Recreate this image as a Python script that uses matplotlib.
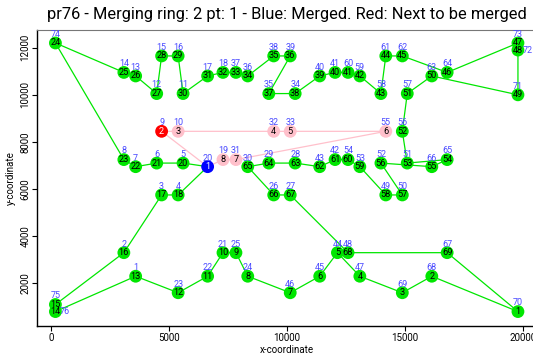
import matplotlib
matplotlib.use("Agg")
import matplotlib.pyplot as plt

# pr76 city coordinates (city id = index + 1)
city_x = [3600, 3100, 4700, 5400, 5608, 4493, 3600, 3100, 4700, 5400,
          5610, 4492, 3600, 3100, 4700, 5400, 6650, 7300, 7300, 6650,
          7300, 6650, 5400, 8350, 7850, 9450, 10150, 10358, 9243, 8350,
          7850, 9450, 10150, 10360, 9242, 8350, 7850, 9450, 10150, 11400,
          12050, 12050, 11400, 12150, 11400, 10150, 13100, 12600, 14200, 14900,
          15108, 13993, 13100, 12600, 14200, 14900, 15110, 13992, 13100, 12600,
          14200, 14900, 16150, 16800, 16800, 16150, 16800, 16150, 14900, 19800,
          19800, 19800, 19800, 200, 200, 200]
city_y = [2300, 3300, 5750, 5750, 7103, 7102, 6950, 7250, 8450, 8450,
          10053, 10052, 10800, 10950, 11650, 11650, 10800, 10950, 7250, 6950,
          3300, 2300, 1600, 2300, 3300, 5750, 5750, 7103, 7102, 6950,
          7250, 8450, 8450, 10053, 10052, 10800, 10950, 11650, 11650, 10800,
          10950, 7250, 6950, 3300, 2300, 1600, 2300, 3300, 5750, 5750,
          7103, 7102, 6950, 7250, 8450, 8450, 10053, 10052, 10800, 10950,
          11650, 11650, 10800, 10950, 7250, 6950, 3300, 2300, 1600, 800,
          10000, 11900, 12200, 12200, 1100, 800]

# ring 1 (already merged part), listed in ring order
ring_main = [70, 68, 69, 47, 44, 45, 46, 24, 25, 21, 22, 23, 1, 76, 75, 2, 3, 4,
             20, 5, 6, 7, 8, 74, 14, 13, 12, 15, 16, 11, 17, 18, 37, 36, 38, 39,
             35, 34, 40, 41, 60, 59, 58, 61, 62, 64, 73, 72, 71, 63, 57, 56, 51,
             65, 66, 52, 50, 49, 53, 54, 42, 43, 28, 29, 30, 26, 27, 48, 67]
# ring 2 (being merged), listed in ring order
ring_merge = [20, 9, 10, 32, 33, 55, 31, 19]
merged_pos = 1      # position in ring 2 already merged
next_pos = 2        # position in ring 2 merged next

# city-id labels placed to the right instead of above
right_labels = [72, 76]

GREEN = "#00e600"
PINK = "#ffc0cb"
LABEL_BLUE = "#4a4aff"

fig = plt.figure(figsize=(5.33, 3.56), dpi=100)
ax = fig.add_axes([37.3 / 533, 30 / 356, 500 / 533, 296.5 / 356])
ax.set_xlim(-568, 20620)
ax.set_ylim(188, 12772)


def coords(ids):
    return [city_x[i - 1] for i in ids], [city_y[i - 1] for i in ids]


# ring edges
mx, my = coords(ring_main + ring_main[:1])
ax.plot(mx, my, color=GREEN, lw=0.9, zorder=2)
px, py = coords(ring_merge + ring_merge[:1])
ax.plot(px, py, color=PINK, lw=0.9, zorder=2)

msize = 85


def draw_point(cid, label, face, txt_color):
    x, y = city_x[cid - 1], city_y[cid - 1]
    ax.scatter([x], [y], s=msize, color=face, edgecolors="none", zorder=3)
    ax.text(x, y, str(label), ha="center", va="center", fontsize=6.6,
            color=txt_color, family="Roboto", zorder=5)
    if cid in right_labels:
        off = (6.8, 0)
    else:
        off = (0, 6.2)
    ax.annotate(str(cid), (x, y), xytext=off, textcoords="offset points",
                ha="center", va="center", fontsize=6.5, color=LABEL_BLUE,
                family="Roboto", zorder=4)


for pos, cid in enumerate(ring_main, start=1):
    if cid in ring_merge:
        continue
    draw_point(cid, pos, GREEN, "black")

for pos, cid in enumerate(ring_merge, start=1):
    if pos == merged_pos:
        draw_point(cid, pos, "blue", "white")
    elif pos == next_pos:
        draw_point(cid, pos, "red", "white")
    else:
        draw_point(cid, pos, PINK, "black")

# axes styling
ax.spines["right"].set_visible(False)
ax.spines["top"].set_color("#777777")
ax.spines["left"].set_linewidth(1.0)
ax.spines["bottom"].set_linewidth(1.0)
ax.set_xticks([0, 5000, 10000, 15000, 20000])
ax.set_yticks([2000, 4000, 6000, 8000, 10000, 12000])
ax.tick_params(axis="both", direction="out", length=3.5, width=0.8,
               labelsize=7, pad=1.5)
for lab in ax.get_yticklabels():
    lab.set_rotation(90)
    lab.set_va("center")
for lab in ax.get_xticklabels() + ax.get_yticklabels():
    lab.set_family("Roboto")

ax.set_xlabel("x-coordinate", fontsize=7, family="Roboto", labelpad=1.5)
ax.set_ylabel("y-coordinate", fontsize=7, family="Roboto", labelpad=3)
fig.text(0.538, 0.958, "pr76 - Merging ring: 2 pt: 1 - Blue: Merged. Red: Next to be merged",
         ha="center", va="center", fontsize=11.8, family="Roboto")

fig.savefig("out.png", dpi=100)
